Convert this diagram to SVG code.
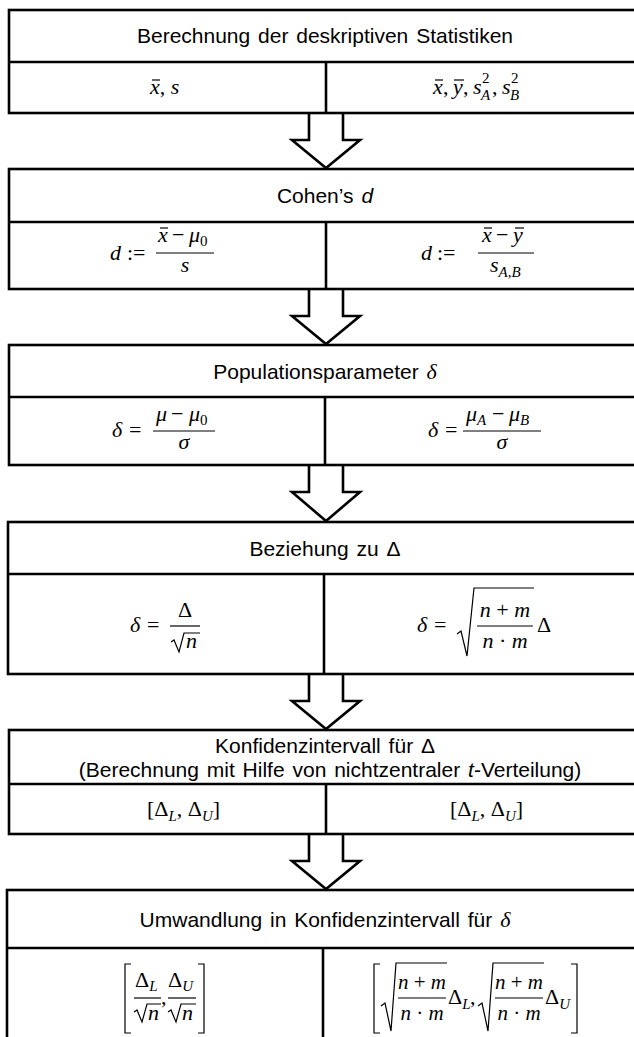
<svg xmlns="http://www.w3.org/2000/svg" width="634" height="1037" viewBox="0 0 634 1037">
<style>
.box{fill:#fff;stroke:#000;stroke-width:2.6}
.ln{stroke:#000;stroke-width:2.6;fill:none}
.hd{font-family:"Liberation Sans",Arial,sans-serif;font-size:21px;text-anchor:middle;fill:#000;word-spacing:2px}
.mi{font-family:"Liberation Serif","Times New Roman",serif;font-size:22px;font-style:italic;fill:#000}
.mr{font-family:"Liberation Serif","Times New Roman",serif;font-size:22px;font-style:normal;fill:#000}
.f21{font-size:21px}
.sub{font-size:15px}
.c{text-anchor:middle}
.fr{stroke:#000;stroke-width:1.2}
.rad{fill:none;stroke:#000;stroke-width:1.2;stroke-linejoin:miter}
.arrow{fill:#fff;stroke:#000;stroke-width:2.6;stroke-linejoin:miter}
</style>
<rect x="0" y="0" width="634" height="1037" fill="#fff"/>

<g id="connectors">
<path class="arrow" d="M309,113 L309,140 L292,140 L326,168 L360,140 L343,140 L343,113"/>
<path class="arrow" d="M309,289 L309,316 L292,316 L326,344 L360,316 L343,316 L343,289"/>
<path class="arrow" d="M309,465 L309,492 L292,492 L326,521 L360,492 L343,492 L343,465"/>
<path class="arrow" d="M309,674 L309,701 L292,701 L326,729 L360,701 L343,701 L343,674"/>
<path class="arrow" d="M309,834 L309,861 L292,861 L326,889 L360,861 L343,861 L343,834"/>
</g>

<g id="box1">
<rect class="box" x="9" y="10" width="630" height="103"/>
<line class="ln" x1="9" y1="62" x2="639" y2="62"/>
<line class="ln" x1="326" y1="62" x2="326" y2="113"/>
<text class="hd" x="325" y="43">Berechnung der deskriptiven Statistiken</text>
<text class="mi" x="150" y="94">x<tspan class="mr">,  </tspan>s</text>
<line class="fr" x1="152" y1="80" x2="160" y2="80"/>
<text class="mi" x="433" y="94">x</text>
<line class="fr" x1="435" y1="80" x2="443" y2="80"/>
<text class="mr" x="443" y="94">,</text>
<text class="mi" x="453" y="94">y</text>
<line class="fr" x1="454" y1="80" x2="464" y2="80"/>
<text class="mr" x="463" y="94">,</text>
<text class="mi" x="473" y="94">s</text>
<text class="mr sub" x="482" y="83">2</text>
<text class="mi sub" x="481" y="100">A</text>
<text class="mr" x="492" y="94">,</text>
<text class="mi" x="502" y="94">s</text>
<text class="mr sub" x="511" y="83">2</text>
<text class="mi sub" x="510" y="100">B</text>
</g>

<g id="box2">
<rect class="box" x="9" y="169" width="630" height="120"/>
<line class="ln" x1="9" y1="222" x2="639" y2="222"/>
<line class="ln" x1="326" y1="222" x2="326" y2="289"/>
<text class="hd" x="325" y="203">Cohen’s <tspan font-style="italic">d</tspan></text>
<text class="mi" x="110" y="260">d</text>
<text class="mr" x="127" y="260">:=</text>
<line class="fr" x1="156" y1="253" x2="214" y2="253"/>
<text class="mi" x="158" y="242">x</text>
<line class="fr" x1="160" y1="228" x2="168" y2="228"/>
<text class="mr" x="172" y="242">−</text>
<text class="mi" x="189" y="242">μ</text>
<text class="mr sub" x="200" y="246">0</text>
<text class="mi c" x="185" y="272">s</text>
<text class="mi" x="421" y="260">d</text>
<text class="mr" x="437" y="260">:=</text>
<line class="fr" x1="478" y1="253" x2="534" y2="253"/>
<text class="mi" x="482" y="242">x</text>
<line class="fr" x1="484" y1="228" x2="492" y2="228"/>
<text class="mr" x="496" y="242">−</text>
<text class="mi" x="513" y="242">y</text>
<line class="fr" x1="515" y1="228" x2="524" y2="228"/>
<text class="mi" x="490" y="272">s<tspan class="sub" dy="5">A,B</tspan></text>
</g>

<g id="box3">
<rect class="box" x="9" y="345" width="630" height="120"/>
<line class="ln" x1="9" y1="397" x2="639" y2="397"/>
<line class="ln" x1="325" y1="397" x2="325" y2="465"/>
<text class="hd" x="325" y="379">Populationsparameter <tspan class="mi">δ</tspan></text>
<text class="mi" x="112" y="437">δ</text>
<text class="mr" x="129" y="437">=</text>
<line class="fr" x1="153" y1="431" x2="215" y2="431"/>
<text class="mi" x="156" y="421">μ</text>
<text class="mr" x="171" y="421">−</text>
<text class="mi" x="189" y="421">μ</text>
<text class="mr sub" x="200" y="425">0</text>
<text class="mi c" x="184" y="449">σ</text>
<text class="mi" x="428" y="437">δ</text>
<text class="mr" x="445" y="437">=</text>
<line class="fr" x1="463" y1="431" x2="541" y2="431"/>
<text class="mi" x="466" y="421">μ<tspan class="sub" dy="4">A</tspan></text>
<text class="mr" x="492" y="421">−</text>
<text class="mi" x="509" y="421">μ<tspan class="sub" dy="4">B</tspan></text>
<text class="mi c" x="502" y="449">σ</text>
</g>

<g id="box4">
<rect class="box" x="8" y="522" width="631" height="152"/>
<line class="ln" x1="8" y1="574" x2="639" y2="574"/>
<line class="ln" x1="324" y1="574" x2="324" y2="674"/>
<text class="hd" x="325" y="556">Beziehung zu Δ</text>
<text class="mi" x="130" y="632">δ</text>
<text class="mr" x="147" y="632">=</text>
<line class="fr" x1="170" y1="626" x2="200" y2="626"/>
<text class="mr c" x="185" y="617">Δ</text>
<path class="rad" d="M171,642 L174,640 L179,652 L184,633 L200,633"/>
<text class="mi" x="186" y="648">n</text>
<text class="mi" x="417" y="632">δ</text>
<text class="mr" x="434" y="632">=</text>
<path class="rad" d="M457,634 L461,631 L467,656 L474,588 L534,588"/>
<line class="fr" x1="477" y1="626" x2="533" y2="626"/>
<text class="mi c" x="505" y="617">n<tspan class="mr"> + </tspan>m</text>
<text class="mi c" x="505" y="648">n<tspan class="mr"> · </tspan>m</text>
<text class="mr" x="537" y="632">Δ</text>
</g>

<g id="box5">
<rect class="box" x="9" y="730" width="630" height="104"/>
<line class="ln" x1="9" y1="784" x2="639" y2="784"/>
<line class="ln" x1="326" y1="784" x2="326" y2="834"/>
<text class="hd" x="325" y="753">Konfidenzintervall für Δ</text>
<text class="hd" x="330" y="777">(Berechnung mit Hilfe von nichtzentraler <tspan font-style="italic">t</tspan>-Verteilung)</text>
<text class="mr" x="147" y="816">[Δ<tspan class="mi sub" dy="5">L</tspan><tspan dy="-5">, </tspan>Δ<tspan class="mi sub" dy="5">U</tspan><tspan dy="-5">]</tspan></text>
<text class="mr" x="450" y="816">[Δ<tspan class="mi sub" dy="5">L</tspan><tspan dy="-5">, </tspan>Δ<tspan class="mi sub" dy="5">U</tspan><tspan dy="-5">]</tspan></text>
</g>

<g id="box6">
<rect class="box" x="7" y="890" width="632" height="160"/>
<line class="ln" x1="7" y1="948" x2="639" y2="948"/>
<line class="ln" x1="323" y1="948" x2="323" y2="1050"/>
<text class="hd" x="325" y="927">Umwandlung in Konfidenzintervall für <tspan class="mi">δ</tspan></text>
<path class="rad" d="M131,964 L125,964 L125,1033 L131,1033"/>
<path class="rad" d="M198,964 L204,964 L204,1033 L198,1033"/>
<line class="fr" x1="134" y1="998" x2="161" y2="998"/>
<text class="mr" x="135" y="987">Δ<tspan class="mi sub" dy="4">L</tspan></text>
<path class="rad" d="M134,1012 L137,1010 L142,1022 L147,1004 L161,1004"/>
<text class="mi" x="148" y="1020">n</text>
<text class="mr" x="161" y="1004">,</text>
<line class="fr" x1="168" y1="998" x2="196" y2="998"/>
<text class="mr" x="168" y="987">Δ<tspan class="mi sub" dy="4">U</tspan></text>
<path class="rad" d="M168,1012 L171,1010 L176,1022 L181,1004 L196,1004"/>
<text class="mi" x="182" y="1020">n</text>
<path class="rad" d="M380,964 L374,964 L374,1033 L380,1033"/>
<path class="rad" d="M381,1006 L385,1003 L391,1031 L396,963 L447,963"/>
<line class="fr" x1="398" y1="998" x2="446" y2="998"/>
<text class="mi c f21" x="422" y="989">n<tspan class="mr f21"> + </tspan>m</text>
<text class="mi c f21" x="422" y="1020">n<tspan class="mr f21"> · </tspan>m</text>
<text class="mr" x="448" y="1004">Δ<tspan class="mi sub" dy="5">L</tspan></text>
<text class="mr" x="470" y="1004">,</text>
<path class="rad" d="M478,1006 L482,1003 L488,1031 L493,963 L544,963"/>
<line class="fr" x1="495" y1="998" x2="543" y2="998"/>
<text class="mi c f21" x="519" y="989">n<tspan class="mr f21"> + </tspan>m</text>
<text class="mi c f21" x="519" y="1020">n<tspan class="mr f21"> · </tspan>m</text>
<text class="mr" x="545" y="1004">Δ<tspan class="mi sub" dy="5">U</tspan></text>
<path class="rad" d="M571,964 L577,964 L577,1033 L571,1033"/>
</g>
</svg>
